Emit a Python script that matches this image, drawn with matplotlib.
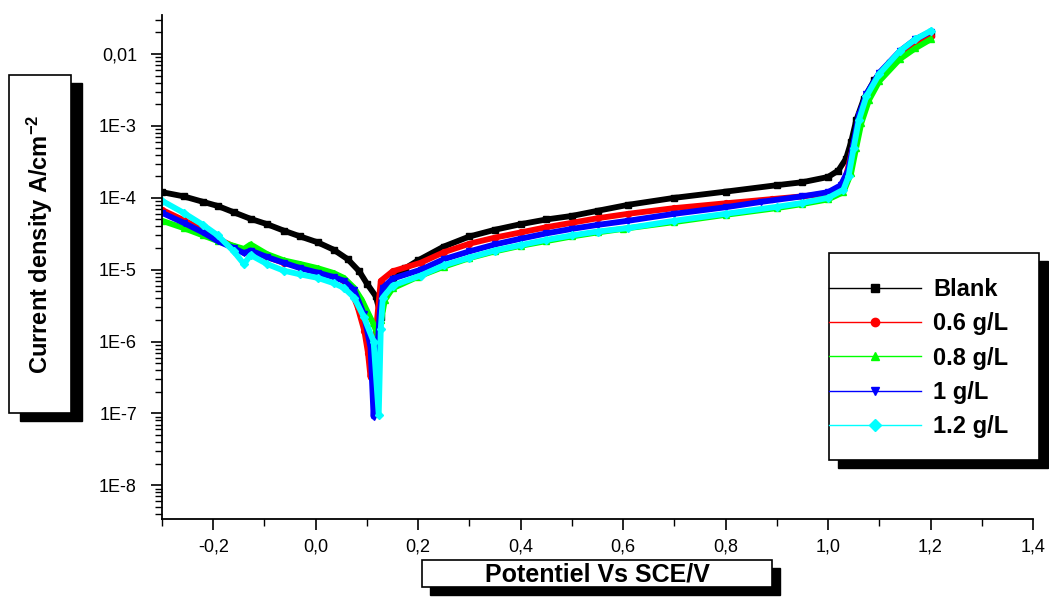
import matplotlib
matplotlib.use("Agg")
import matplotlib.pyplot as plt
from matplotlib.lines import Line2D
from matplotlib.patches import Rectangle
from matplotlib.ticker import FixedLocator, LogLocator, MultipleLocator, NullFormatter

# FONTS
plt.rcParams['font.family'] = ['Liberation Sans', 'DejaVu Sans']
plt.rcParams['mathtext.fontset'] = 'custom'
plt.rcParams['mathtext.rm'] = 'Liberation Sans'
plt.rcParams['mathtext.default'] = 'regular'

# DATA: POTENTIAL (V vs SCE) AND CURRENT DENSITY (A/cm2)
blank_E = [-0.30, -0.258, -0.22, -0.191, -0.16, -0.127, -0.095, -0.0625, -0.03, 0.004,
           0.035, 0.0625, 0.085, 0.10, 0.117, 0.128, 0.135, 0.15, 0.175, 0.20,
           0.25, 0.30, 0.35, 0.40, 0.45, 0.50, 0.55, 0.61, 0.70, 0.80,
           0.90, 0.95, 1.00, 1.02, 1.035, 1.045, 1.055, 1.07, 1.09, 1.12,
           1.15, 1.18, 1.20]
blank_i = [1.2e-4, 1.05e-4, 8.8e-5, 7.7e-5, 6.3e-5, 5.1e-5, 4.3e-5, 3.5e-5, 2.9e-5, 2.4e-5,
           1.9e-5, 1.4e-5, 9.5e-6, 6.4e-6, 4.3e-6, 2.2e-6, 4.5e-6, 7.5e-6, 1.05e-5, 1.35e-5,
           2.1e-5, 2.9e-5, 3.6e-5, 4.3e-5, 5.0e-5, 5.6e-5, 6.6e-5, 8.0e-5, 1.0e-4, 1.22e-4,
           1.5e-4, 1.65e-4, 1.95e-4, 2.4e-4, 3.5e-4, 6e-4, 1.2e-3, 2.4e-3, 4.3e-3, 7.5e-3,
           1.1e-2, 1.55e-2, 1.9e-2]

c06_E = [-0.30, -0.258, -0.22, -0.191, -0.16, -0.14, -0.127, -0.095, -0.0625, -0.03,
         0.004, 0.035, 0.055, 0.07, 0.082, 0.095, 0.102, 0.107, 0.113, 0.118,
         0.127, 0.15, 0.205, 0.25, 0.30, 0.35, 0.40, 0.45, 0.50, 0.55,
         0.61, 0.70, 0.80, 0.89, 0.95, 1.00, 1.02, 1.035, 1.045, 1.055,
         1.065, 1.08, 1.10, 1.14, 1.17, 1.20]
c06_i = [6.8e-5, 4.9e-5, 3.6e-5, 2.7e-5, 2.1e-5, 1.75e-5, 1.9e-5, 1.5e-5, 1.25e-5, 1.1e-5,
         9.5e-6, 8.2e-6, 7.0e-6, 5.0e-6, 3.0e-6, 1.4e-6, 7e-7, 3.2e-7, 8e-7, 1.5e-6,
         7e-6, 9.5e-6, 1.25e-5, 1.75e-5, 2.3e-5, 2.8e-5, 3.3e-5, 3.9e-5, 4.5e-5, 5.2e-5,
         6.0e-5, 7.2e-5, 8.4e-5, 9.6e-5, 1.05e-4, 1.15e-4, 1.3e-4, 2.0e-4, 4.0e-4, 8e-4,
         1.5e-3, 2.8e-3, 5e-3, 1.05e-2, 1.45e-2, 1.8e-2]

c08_E = [-0.30, -0.258, -0.22, -0.191, -0.16, -0.14, -0.127, -0.095, -0.0625, -0.03,
         0.004, 0.035, 0.055, 0.075, 0.09, 0.10, 0.112, 0.12, 0.128, 0.135,
         0.15, 0.20, 0.25, 0.30, 0.35, 0.40, 0.45, 0.50, 0.55, 0.60,
         0.70, 0.80, 0.90, 0.95, 1.00, 1.03, 1.045, 1.055, 1.065, 1.08,
         1.10, 1.14, 1.17, 1.20]
c08_i = [4.8e-5, 3.8e-5, 3.0e-5, 2.5e-5, 2.15e-5, 1.95e-5, 2.25e-5, 1.65e-5, 1.35e-5, 1.2e-5,
         1.05e-5, 9e-6, 7.7e-6, 5.6e-6, 3.8e-6, 2.7e-6, 1.8e-6, 1.3e-6, 2.0e-6, 3.8e-6,
         5.5e-6, 8e-6, 1.1e-5, 1.45e-5, 1.8e-5, 2.15e-5, 2.5e-5, 2.9e-5, 3.3e-5, 3.7e-5,
         4.6e-5, 5.8e-5, 7.2e-5, 8.2e-5, 9.5e-5, 1.2e-4, 2.2e-4, 5e-4, 1.1e-3, 2.3e-3,
         4.2e-3, 8.5e-3, 1.2e-2, 1.6e-2]

c1_E = [-0.30, -0.258, -0.22, -0.191, -0.16, -0.14, -0.127, -0.095, -0.0625, -0.03,
        0.004, 0.035, 0.055, 0.075, 0.094, 0.107, 0.113, 0.118, 0.125, 0.131,
        0.15, 0.205, 0.25, 0.30, 0.35, 0.40, 0.45, 0.50, 0.55, 0.61,
        0.70, 0.80, 0.87, 0.95, 1.00, 1.025, 1.04, 1.05, 1.06, 1.075,
        1.10, 1.14, 1.17, 1.20]
c1_i = [6.2e-5, 4.5e-5, 3.3e-5, 2.5e-5, 2.0e-5, 1.7e-5, 1.85e-5, 1.5e-5, 1.25e-5, 1.05e-5,
        9.1e-6, 7.9e-6, 7.0e-6, 5.2e-6, 2.4e-6, 8.3e-7, 9e-8, 4e-7, 2.5e-6, 5.6e-6,
        7.5e-6, 1.0e-5, 1.4e-5, 1.8e-5, 2.25e-5, 2.7e-5, 3.2e-5, 3.7e-5, 4.2e-5, 4.8e-5,
        6.0e-5, 7.4e-5, 8.8e-5, 1.05e-4, 1.2e-4, 1.5e-4, 2.5e-4, 6e-4, 1.4e-3, 2.8e-3,
        5.5e-3, 1.1e-2, 1.6e-2, 2.05e-2]

c12_E = [-0.30, -0.258, -0.22, -0.191, -0.16, -0.14, -0.127, -0.095, -0.0625, -0.03,
         0.004, 0.035, 0.055, 0.075, 0.094, 0.113, 0.123, 0.127, 0.131, 0.15,
         0.205, 0.25, 0.30, 0.35, 0.40, 0.45, 0.50, 0.55, 0.61, 0.70,
         0.80, 0.90, 0.95, 1.00, 1.03, 1.04, 1.05, 1.06, 1.075, 1.10,
         1.14, 1.17, 1.20]
c12_i = [9.1e-5, 6.2e-5, 4.2e-5, 3.0e-5, 1.8e-5, 1.2e-5, 1.6e-5, 1.2e-5, 9.7e-6, 8.6e-6,
         7.7e-6, 6.5e-6, 5.6e-6, 4.1e-6, 2.2e-6, 1.0e-6, 9.5e-8, 1.5e-6, 4.1e-6, 6e-6,
         8.3e-6, 1.15e-5, 1.47e-5, 1.85e-5, 2.2e-5, 2.6e-5, 3.0e-5, 3.4e-5, 3.8e-5, 4.8e-5,
         6.0e-5, 7.5e-5, 8.5e-5, 1.0e-4, 1.3e-4, 2e-4, 5e-4, 1.2e-3, 2.6e-3, 5.3e-3,
         1.1e-2, 1.6e-2, 2.1e-2]

labels = ["Blank", "0.6 g/L", "0.8 g/L", "1 g/L", "1.2 g/L"]
colors = ["#000000", "#ff0000", "#00ff00", "#0000ff", "#00ffff"]
markers = ["s", "o", "^", "v", "D"]

x_ticks = [-0.2, 0.0, 0.2, 0.4, 0.6, 0.8, 1.0, 1.2, 1.4]
x_tick_labels = ["-0,2", "0,0", "0,2", "0,4", "0,6", "0,8", "1,0", "1,2", "1,4"]
y_ticks = [1e-8, 1e-7, 1e-6, 1e-5, 1e-4, 1e-3, 1e-2]
y_tick_labels = ["1E-8", "1E-7", "1E-6", "1E-5", "1E-4", "1E-3", "0,01"]

W, H = 1049, 601


def fig_box(fig, x0, y0, x1, y1, dx, dy):
    """DRAW A WHITE BOX WITH A BLACK DROP SHADOW (PIXEL COORDS, TOP-LEFT ORIGIN)"""
    shadow = Rectangle(((x0 + dx) / W, 1 - (y1 + dy) / H), (x1 - x0) / W, (y1 - y0) / H,
                       transform=fig.transFigure, facecolor="black", edgecolor="black",
                       lw=1.0, zorder=2)
    box = Rectangle((x0 / W, 1 - y1 / H), (x1 - x0) / W, (y1 - y0) / H,
                    transform=fig.transFigure, facecolor="white", edgecolor="black",
                    lw=1.2, zorder=3)
    fig.add_artist(shadow)
    fig.add_artist(box)


fig = plt.figure(figsize=(W / 100, H / 100), dpi=100)
ax = fig.add_axes([162 / W, 82 / H, (1033 - 162) / W, (519 - 15) / H])

series = [(blank_E, blank_i), (c06_E, c06_i), (c08_E, c08_i), (c1_E, c1_i), (c12_E, c12_i)]
for (E, i), lab, col, mk in zip(series, labels, colors, markers):
    ax.plot(E, i, color=col, lw=4.2, marker=mk, ms=4.2, mfc=col, mec=col,
            solid_joinstyle="round", label=lab)

# AXES
ax.set_yscale("log")
ax.set_xlim(-0.3, 1.4)
ax.set_ylim(3.4e-9, 0.035)
for side in ["top", "right"]:
    ax.spines[side].set_visible(False)
for side in ["left", "bottom"]:
    ax.spines[side].set_linewidth(1.3)

ax.xaxis.set_major_locator(FixedLocator(x_ticks))
ax.set_xticklabels(x_tick_labels)
ax.xaxis.set_minor_locator(MultipleLocator(0.1))
ax.yaxis.set_major_locator(FixedLocator(y_ticks))
ax.set_yticklabels(y_tick_labels)
ax.yaxis.set_minor_locator(LogLocator(base=10, subs=range(2, 10), numticks=20))
ax.yaxis.set_minor_formatter(NullFormatter())

ax.tick_params(which="major", direction="out", length=8, width=1.2, labelsize=13)
ax.tick_params(which="minor", direction="out", length=5, width=1.0)
ax.tick_params(axis="y", which="major", pad=10)
ax.tick_params(axis="x", which="major", pad=6)

# AXIS TITLE BOXES
fig_box(fig, 9, 75, 71, 413, 11, 8)
fig.text(40 / W, 1 - 244 / H, "Current density A/cm$^{-2}$", rotation=90,
         ha="center", va="center", fontsize=17, fontweight="bold", zorder=4)

fig_box(fig, 422, 560, 772, 587, 8, 8)
fig.text(597 / W, 1 - 574 / H, "Potentiel Vs SCE/V", ha="center", va="center",
         fontsize=18, fontweight="bold", zorder=4)

# LEGEND BOX
fig_box(fig, 829, 253, 1039, 460, 9, 8)
handles = [Line2D([], [], color=c, lw=1.0, marker=m, ms=6, mfc=c, mec=c)
           for c, m in zip(colors, markers)]
leg = fig.legend(handles, labels, loc="center left",
                 bbox_to_anchor=(829 / W, 1 - 358 / H), frameon=False,
                 borderpad=0, borderaxespad=0, handlelength=3.9, handletextpad=0.5,
                 labelspacing=0.48, prop={"size": 17, "weight": "bold"})
leg.set_zorder(6)

fig.savefig("out.png", dpi=100)
